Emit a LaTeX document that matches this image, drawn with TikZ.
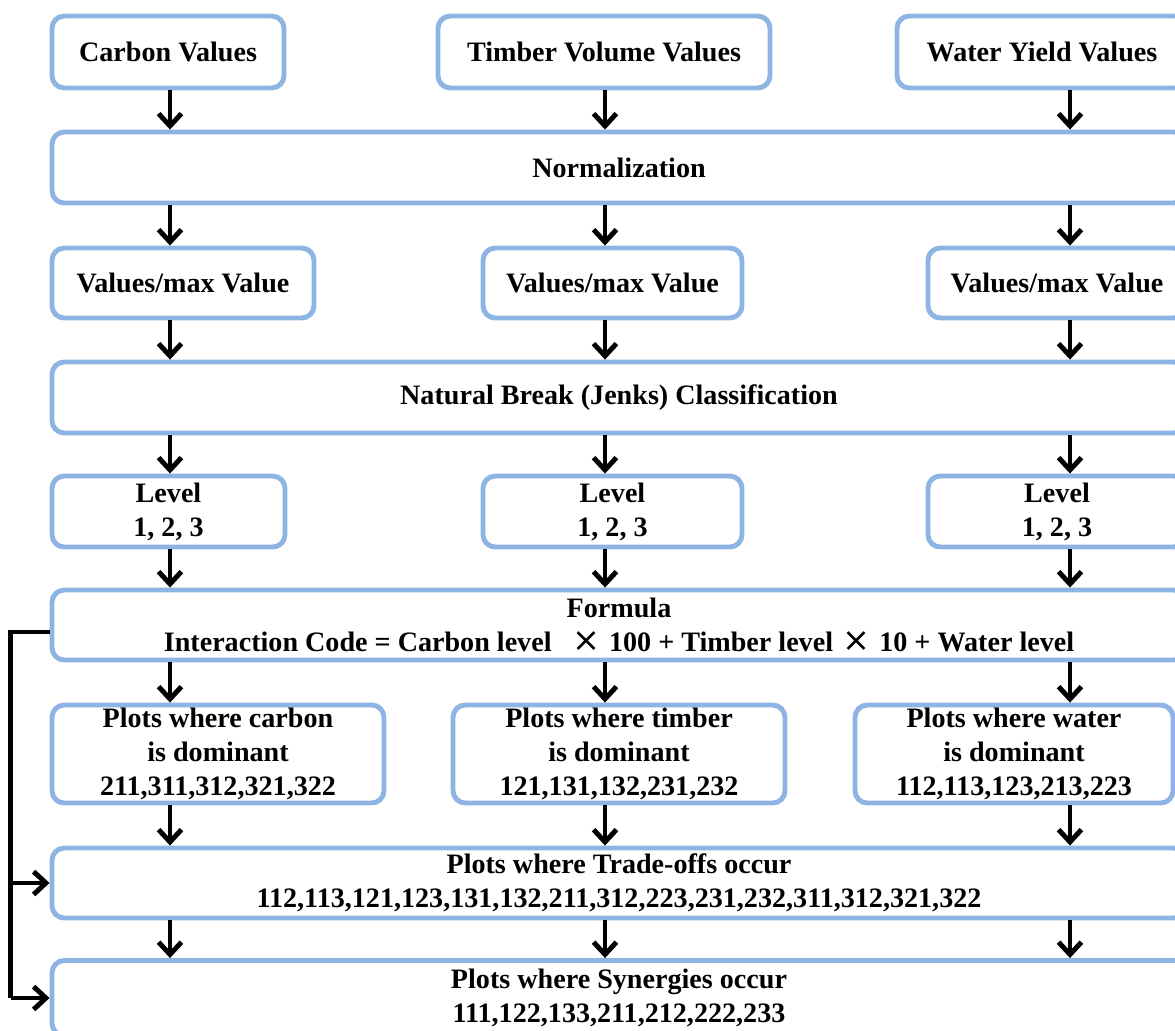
\documentclass[tikz,border=0pt]{standalone}
\usepackage{fontspec}
\setmainfont{Liberation Serif}
\newfontfamily\symfont{DejaVu Sans}
\usepackage{xcolor}
\usetikzlibrary{arrows.meta}
\definecolor{boxblue}{RGB}{141,180,226}
\newcommand{\mult}{\hspace{0.35em}{\symfont\mdseries\fontsize{19}{19}\selectfont ×}\hspace{0.3em}}

\begin{document}
\begin{tikzpicture}[
  box/.style={draw=boxblue, line width=2.8pt, rounded corners=7pt, fill=white,
    align=center, inner sep=0pt, font=\fontsize{16}{19.3}\selectfont\bfseries},
  arr/.style={-{Straight Barb[length=7pt,width=13pt]}, line width=2.8pt},
  feed/.style={line width=2.8pt},
]
%\draw[step=1cm,gray,very thin] (0,0) grid (23.5,-20.6);
\useasboundingbox (0,0) rectangle (23.5,-20.6);
\coordinate (colc) at (3.4,0);
\coordinate (colt) at (12.1,0);
\coordinate (colw) at (21.4,0);
\coordinate (bus) at (0.21,0);

\node[box, minimum width=4.64cm, minimum height=1.44cm] (carbon) at (3.36,-1.04) {Carbon Values};
\node[box, minimum width=6.64cm, minimum height=1.44cm] (timber) at (12.08,-1.04) {Timber Volume Values};
\node[box, minimum width=5.8cm, minimum height=1.44cm] (water) at (20.84,-1.04) {Water Yield Values};

\node[box, minimum width=22.68cm, minimum height=1.42cm] (norm) at (12.38,-3.35) {Normalization};

\node[box, minimum width=5.24cm, minimum height=1.4cm] (valc) at (3.66,-5.66) {Values/max Value};
\node[box, minimum width=5.18cm, minimum height=1.4cm] (valt) at (12.25,-5.66) {Values/max Value};
\node[box, minimum width=5.16cm, minimum height=1.4cm] (valw) at (21.14,-5.66) {Values/max Value};

\node[box, minimum width=22.68cm, minimum height=1.42cm] (jenks) at (12.38,-7.95) {Natural Break (Jenks) Classification};

\node[box, minimum width=4.66cm, minimum height=1.42cm] (levc) at (3.37,-10.23) {Level\\1, 2, 3};
\node[box, minimum width=5.18cm, minimum height=1.42cm] (levt) at (12.25,-10.23) {Level\\1, 2, 3};
\node[box, minimum width=5.16cm, minimum height=1.42cm] (levw) at (21.14,-10.23) {Level\\1, 2, 3};

\node[box, minimum width=22.68cm, minimum height=1.4cm] (formula) at (12.38,-12.5)
  {Formula\\Interaction Code = Carbon level\hspace{0.4em}\mult 100 + Timber level\mult 10 + Water level};

\node[box, minimum width=6.64cm, minimum height=1.96cm] (domc) at (4.36,-15.08)
  {Plots where carbon\\is dominant\\211,311,312,321,322};
\node[box, minimum width=6.64cm, minimum height=1.96cm] (domt) at (12.38,-15.08)
  {Plots where timber\\is dominant\\121,131,132,231,232};
\node[box, minimum width=6.36cm, minimum height=1.96cm] (domw) at (20.28,-15.08)
  {Plots where water\\is dominant\\112,113,123,213,223};

\node[box, minimum width=22.68cm, minimum height=1.4cm] (trade) at (12.38,-17.66)
  {Plots where Trade-offs occur\\112,113,121,123,131,132,211,312,223,231,232,311,312,321,322};
\node[box, minimum width=22.68cm, minimum height=1.5cm] (syn) at (12.38,-19.96)
  {Plots where Synergies occur\\111,122,133,211,212,222,233};

\draw[arr] (colc |- carbon.south) -- (colc |- norm.north);
\draw[arr] (colt |- timber.south) -- (colt |- norm.north);
\draw[arr] (colw |- water.south) -- (colw |- norm.north);
\draw[arr] (colc |- norm.south) -- (colc |- valc.north);
\draw[arr] (colt |- norm.south) -- (colt |- valt.north);
\draw[arr] (colw |- norm.south) -- (colw |- valw.north);
\draw[arr] (colc |- valc.south) -- (colc |- jenks.north);
\draw[arr] (colt |- valt.south) -- (colt |- jenks.north);
\draw[arr] (colw |- valw.south) -- (colw |- jenks.north);
\draw[arr] (colc |- jenks.south) -- (colc |- levc.north);
\draw[arr] (colt |- jenks.south) -- (colt |- levt.north);
\draw[arr] (colw |- jenks.south) -- (colw |- levw.north);
\draw[arr] (colc |- levc.south) -- (colc |- formula.north);
\draw[arr] (colt |- levt.south) -- (colt |- formula.north);
\draw[arr] (colw |- levw.south) -- (colw |- formula.north);
\draw[arr] (colc |- formula.south) -- (colc |- domc.north);
\draw[arr] (colt |- formula.south) -- (colt |- domt.north);
\draw[arr] (colw |- formula.south) -- (colw |- domw.north);
\draw[arr] (colc |- domc.south) -- (colc |- trade.north);
\draw[arr] (colt |- domt.south) -- (colt |- trade.north);
\draw[arr] (colw |- domw.south) -- (colw |- trade.north);
\draw[arr] (colc |- trade.south) -- (colc |- syn.north);
\draw[arr] (colt |- trade.south) -- (colt |- syn.north);
\draw[arr] (colw |- trade.south) -- (colw |- syn.north);

% feedback from the formula
\draw[feed] ([yshift=-0.14cm]formula.west) -| (bus |- syn.west);
\draw[arr] (bus |- syn.west) -- (syn.west);
\draw[arr] (bus |- trade.west) -- (trade.west);
\end{tikzpicture}
\end{document}
